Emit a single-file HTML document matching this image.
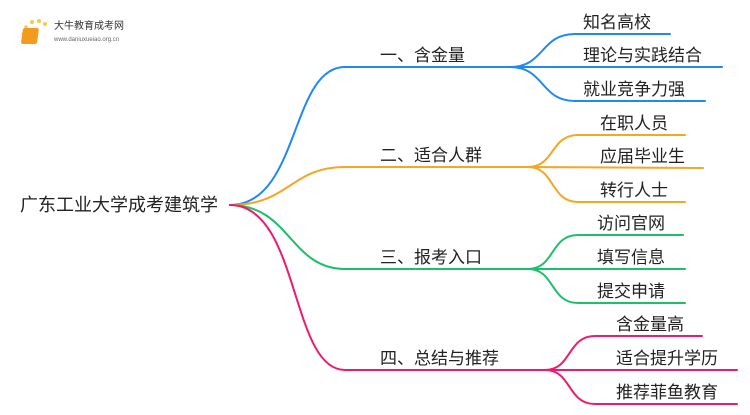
<!DOCTYPE html>
<html><head><meta charset="utf-8"><style>
body{margin:0;width:750px;height:410px;background:#fff;overflow:hidden;font-family:"Liberation Sans","Noto Sans CJK SC",sans-serif;}
svg text{font-family:"Liberation Sans","Noto Sans CJK SC",sans-serif;fill:#222;}
</style></head><body>
<svg width="750" height="410" viewBox="0 0 750 410" xmlns="http://www.w3.org/2000/svg">
<g fill="none" stroke-width="2" stroke-linecap="round">
<g stroke="#1e88f5">
<path d="M230 205 C 300 205, 290 67, 345 67 L 510 67"/>
<path d="M510 67 C 545 67, 540 34, 575 34 L 670 34"/>
<path d="M510 67 L 722 67"/>
<path d="M510 67 C 545 67, 540 101, 575 101 L 705 101"/>
</g>
<g stroke="#f5a623">
<path d="M230 205 C 290 205, 290 167, 345 167 L 528 167"/>
<path d="M528 167 C 555 167, 550 135, 578 135 L 685 135"/>
<path d="M528 167 L 703 168"/>
<path d="M528 167 C 555 167, 550 202, 578 202 L 685 202"/>
</g>
<g stroke="#1dbf6a">
<path d="M230 205 C 290 205, 290 269, 345 269 L 528 269"/>
<path d="M528 269 C 555 269, 550 235, 578 235 L 683 235"/>
<path d="M528 269 L 685 269"/>
<path d="M528 269 C 555 269, 550 303, 578 303 L 685 303"/>
</g>
<g stroke="#f0196e">
<path d="M230 205 C 300 205, 290 370, 345 370 L 545 370"/>
<path d="M545 370 C 572 370, 567 336, 595 336 L 702 336"/>
<path d="M545 370 L 737 370"/>
<path d="M545 370 C 572 370, 567 404, 595 404 L 737 404"/>
</g>
</g>
<text x="20" y="211" font-size="18">广东工业大学成考建筑学</text>
<g font-size="17">
<text x="380" y="61">一、含金量</text>
<text x="380" y="161">二、适合人群</text>
<text x="380" y="263">三、报考入口</text>
<text x="380" y="364">四、总结与推荐</text>
<text x="583" y="28">知名高校</text>
<text x="583" y="61">理论与实践结合</text>
<text x="583" y="95">就业竞争力强</text>
<text x="600" y="129">在职人员</text>
<text x="600" y="162">应届毕业生</text>
<text x="600" y="196">转行人士</text>
<text x="597" y="229">访问官网</text>
<text x="597" y="263">填写信息</text>
<text x="597" y="297">提交申请</text>
<text x="616" y="330">含金量高</text>
<text x="616" y="364">适合提升学历</text>
<text x="616" y="398">推荐菲鱼教育</text>
</g>
<g>
<circle cx="23" cy="34" r="1.5" fill="#f7c948"/><circle cx="26" cy="27" r="1.8" fill="#f7c948"/>
<circle cx="32" cy="22" r="2" fill="#f7c948"/><circle cx="39" cy="21" r="2" fill="#f7c948"/><circle cx="45" cy="24" r="2" fill="#f7c948"/>
<rect x="27" y="28" width="16" height="16" rx="2" fill="#f29b1d" transform="skewX(-8)"/>
<text x="54" y="29" font-size="10" style="fill:#333">大牛教育成考网</text>
<text x="54" y="41" font-size="6" style="fill:#666">www.daniuxueiao.org.cn</text>
</g>
</svg>
</body></html>
